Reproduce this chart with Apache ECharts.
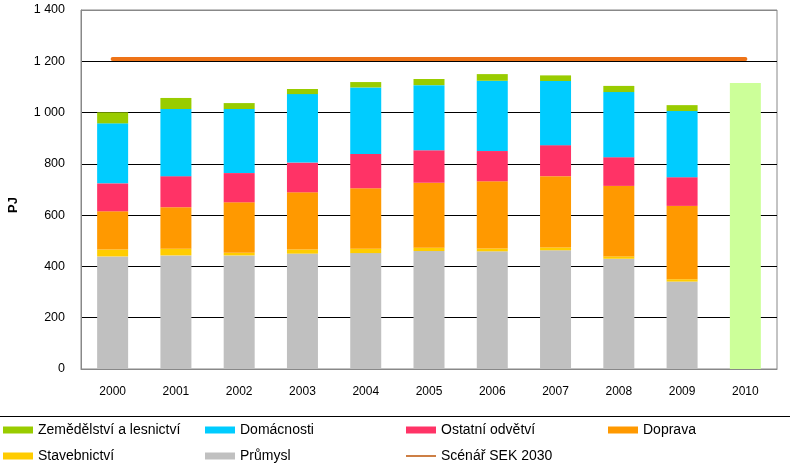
<!DOCTYPE html>
<html>
<head>
<meta charset="utf-8">
<script src="https://cdn.jsdelivr.net/npm/echarts@6/dist/echarts.min.js"></script>
<style>
	html, body { margin: 0; padding: 0; background: #fff; }
	#chart { width: 790px; height: 466px; }
</style>
</head>
<body>
<div id="chart"></div>
<script>
	var years = ['2000', '2001', '2002', '2003', '2004', '2005', '2006', '2007', '2008', '2009', '2010'];

	// PJ, 2000-2009
	var prumysl = [439, 443, 443, 450, 452, 460, 459, 463, 430, 341];
	var stavebnictvi = [27, 26, 10, 16, 17, 13, 11, 11, 9, 9];
	var doprava = [149, 162, 197, 223, 236, 253, 262, 278, 275, 286];
	var ostatni = [109, 121, 114, 116, 133, 127, 118, 121, 112, 112];
	var domacnosti = [234, 262, 250, 267, 260, 254, 274, 250, 254, 258];
	var zemedelstvi = [43, 43, 23, 20, 21, 24, 26, 22, 24, 23];
	// odhad 2010
	var odhad2010 = [null, null, null, null, null, null, null, null, null, null, 1115];
	var scenarSek = [1209, 1209, 1209, 1209, 1209, 1209, 1209, 1209, 1209, 1209, 1209];

	var yTicks = [0, 200, 400, 600, 800, 1000, 1200, 1400];

	var font = 'Liberation Sans, Arial, sans-serif';

	function barSeries(name, data, color) {
		return {
			name: name,
			type: 'bar',
			stack: 'celkem',
			barWidth: 31,
			data: data.concat([null]),
			itemStyle: { color: color },
			emphasis: { disabled: true }
		};
	}

	function legendItem(name, left, top, isLine) {
		return {
			data: [name],
			left: left,
			top: top,
			padding: 0,
			itemWidth: 30,
			itemHeight: isLine ? 2 : 7,
			icon: 'rect',
			selectedMode: false,
			textStyle: { fontFamily: font, fontSize: 14, color: '#000' }
		};
	}

	var series = [
		barSeries('Průmysl', prumysl, '#c0c0c0'),
		barSeries('Stavebnictví', stavebnictvi, '#ffcc00'),
		barSeries('Doprava', doprava, '#ff9900'),
		barSeries('Ostatní odvětví', ostatni, '#ff3366'),
		barSeries('Domácnosti', domacnosti, '#00ccff'),
		barSeries('Zemědělství a lesnictví', zemedelstvi, '#99cc00'),
		{
			name: 'Odhad 2010',
			type: 'bar',
			stack: 'celkem',
			barWidth: 31,
			data: odhad2010,
			itemStyle: { color: '#ccff99' },
			emphasis: { disabled: true }
		},
		{
			name: 'Scénář SEK 2030',
			type: 'line',
			data: scenarSek,
			symbol: 'none',
			z: 5,
			lineStyle: { color: '#ee7317', width: 4, cap: 'round' },
			itemStyle: { color: '#cd7f45' },
			emphasis: { disabled: true }
		}
	];

	var option = {
		animation: false,
		backgroundColor: '#fff',
		grid: {
			left: 81,
			right: 13,
			top: 10,
			bottom: 97,
			show: true,
			borderColor: '#888',
			borderWidth: 1
		},
		legend: [
			legendItem('Zemědělství a lesnictví', 3, 423),
			legendItem('Domácnosti', 205, 423),
			legendItem('Ostatní odvětví', 406, 423),
			legendItem('Doprava', 608, 423),
			legendItem('Stavebnictví', 3, 449),
			legendItem('Průmysl', 205, 449),
			legendItem('Scénář SEK 2030', 406, 449, true)
		],
		xAxis: {
			type: 'category',
			data: years,
			axisLine: { lineStyle: { color: '#888' } },
			axisTick: { alignWithLabel: false, length: 4, lineStyle: { color: '#888' } },
			axisLabel: { fontFamily: font, fontSize: 12, color: '#000', margin: 17 }
		},
		yAxis: {
			type: 'value',
			min: yTicks[0],
			max: yTicks[yTicks.length - 1],
			interval: 200,
			axisLine: { show: true, lineStyle: { color: '#888' } },
			axisTick: { show: false },
			axisLabel: {
				fontFamily: font,
				fontSize: 12.5,
				color: '#000',
				margin: 16,
				formatter: function (v) {
					return String(v).replace(/\B(?=(\d{3})+(?!\d))/g, ' ');
				}
			},
			splitLine: {
				lineStyle: { color: ['#888', '#000', '#000', '#000', '#000', '#000', '#000', '#888'], width: 1 }
			}
		},
		graphic: [
			{
				type: 'text',
				x: 13,
				y: 205,
				rotation: Math.PI / 2,
				style: {
					text: 'PJ',
					font: 'bold 13px ' + font,
					fill: '#000',
					align: 'center',
					verticalAlign: 'middle'
				}
			},
			{
				type: 'line',
				shape: { x1: 0, y1: 416.5, x2: 790, y2: 416.5 },
				style: { stroke: '#000', lineWidth: 1 }
			}
		],
		series: series
	};

	var myChart = echarts.init(document.getElementById('chart'));
	myChart.setOption(option);
</script>
</body>
</html>
